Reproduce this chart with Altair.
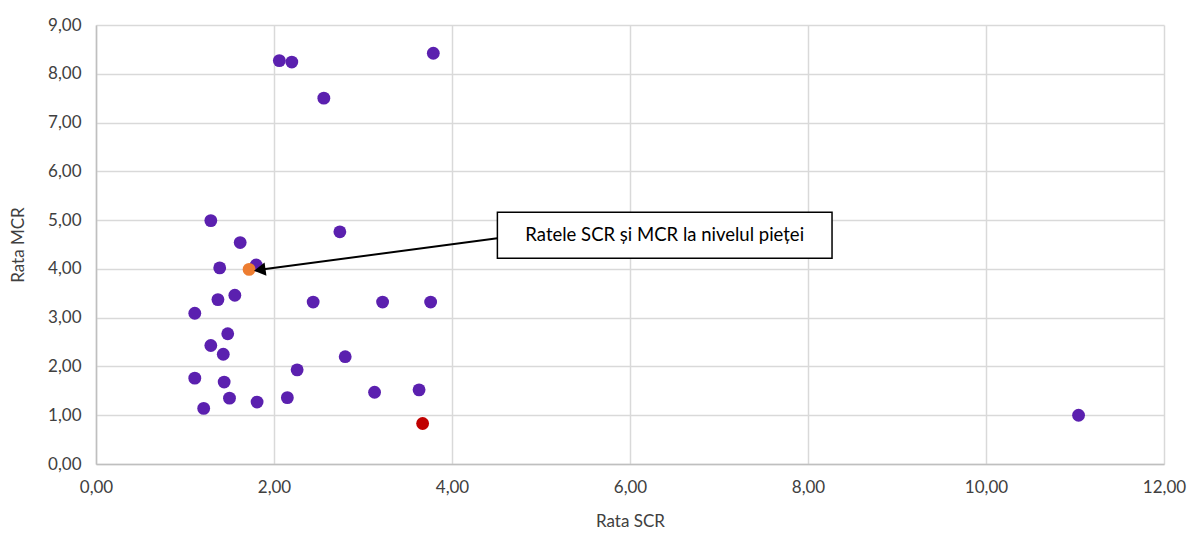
import altair as alt
import pandas as pd

# Data
scr = [2.06, 2.20, 3.79, 2.56, 1.29, 1.62, 2.74, 1.39, 1.80, 1.37, 1.56, 2.44, 3.22, 3.76,
       1.11, 1.48, 1.29, 1.43, 2.80, 2.26, 1.11, 1.44, 1.50, 1.21, 1.81, 2.15, 3.13, 3.63,
       11.04, 1.72, 3.67]
mcr = [8.27, 8.24, 8.42, 7.50, 4.99, 4.54, 4.76, 4.02, 4.08, 3.37, 3.46, 3.32, 3.32, 3.32,
       3.09, 2.67, 2.43, 2.25, 2.20, 1.93, 1.76, 1.68, 1.35, 1.14, 1.27, 1.36, 1.47, 1.52,
       1.00, 3.99, 0.83]
group = ["firm"] * 29 + ["market", "highlight"]

group_domain = ["firm", "market", "highlight"]
group_colors = ["#5B20AF", "#ED7D31", "#C00000"]

# Annotation (data coordinates)
ann_text = "Ratele SCR și MCR la nivelul pieței"
box_x = [4.51, 8.27]
box_y = [4.22, 5.16]
arrow_from = [4.51, 4.63]
arrow_to = [1.84, 3.98]

df = pd.DataFrame({"scr": scr, "mcr": mcr, "group": group})

FONT = "Lato"
xscale = alt.Scale(domain=[0, 12], nice=False, zero=True)
yscale = alt.Scale(domain=[0, 9], nice=False, zero=True)
fmt = "replace(format(datum.value, '.2f'), '.', ',')"

points = alt.Chart(df).mark_circle(size=165, opacity=1).encode(
    x=alt.X("scr:Q", scale=xscale, title="Rata SCR",
            axis=alt.Axis(values=[0, 2, 4, 6, 8, 10, 12], labelExpr=fmt, labelPadding=15,
                          labelFlush=False, titlePadding=18)),
    y=alt.Y("mcr:Q", scale=yscale, title="Rata MCR",
            axis=alt.Axis(values=list(range(10)), labelExpr=fmt, labelPadding=15,
                          labelFlush=False, titlePadding=20)),
    color=alt.Color("group:N", scale=alt.Scale(domain=group_domain, range=group_colors),
                    legend=None),
)

arrow_df = pd.DataFrame({"x": [arrow_from[0]], "y": [arrow_from[1]],
                         "x2": [arrow_to[0]], "y2": [arrow_to[1]]})
arrow_line = alt.Chart(arrow_df).mark_rule(color="black", strokeWidth=2).encode(
    x=alt.X("x:Q", scale=xscale), y=alt.Y("y:Q", scale=yscale),
    x2="x2:Q", y2="y2:Q",
)
head_df = pd.DataFrame({"x": [arrow_to[0]], "y": [arrow_to[1]]})
arrow_head = alt.Chart(head_df).mark_point(
    shape="triangle-up", filled=True, color="black", size=180, angle=262, opacity=1
).encode(x=alt.X("x:Q", scale=xscale), y=alt.Y("y:Q", scale=yscale))

box_df = pd.DataFrame({"x": [box_x[0]], "x2": [box_x[1]], "y": [box_y[0]], "y2": [box_y[1]],
                       "tx": [(box_x[0] + box_x[1]) / 2], "ty": [(box_y[0] + box_y[1]) / 2],
                       "label": [ann_text]})
box = alt.Chart(box_df).mark_rect(fill="white", stroke="black", strokeWidth=1.5).encode(
    x=alt.X("x:Q", scale=xscale), x2="x2:Q",
    y=alt.Y("y:Q", scale=yscale), y2="y2:Q",
)
box_text = alt.Chart(box_df).mark_text(font=FONT, fontSize=18.5, color="black").encode(
    x=alt.X("tx:Q", scale=xscale), y=alt.Y("ty:Q", scale=yscale), text="label:N",
)

chart = alt.layer(points, arrow_line, arrow_head, box, box_text).properties(
    width=1068, height=439,
    autosize=alt.AutoSizeParams(type="none"),
    padding={"left": 96, "top": 25, "right": 29, "bottom": 71},
    background="white",
).configure_view(stroke=None).configure_axis(
    grid=True, gridColor="#D9D9D9", gridWidth=1.5,
    domainColor="#BFBFBF", domainWidth=1.5, ticks=False,
    labelFont=FONT, labelFontSize=17, labelColor="#404040",
    titleFont=FONT, titleFontSize=17, titleColor="#404040", titleFontWeight="normal",
)

chart.save("out.html", embed_options={"renderer": "svg", "actions": False})
